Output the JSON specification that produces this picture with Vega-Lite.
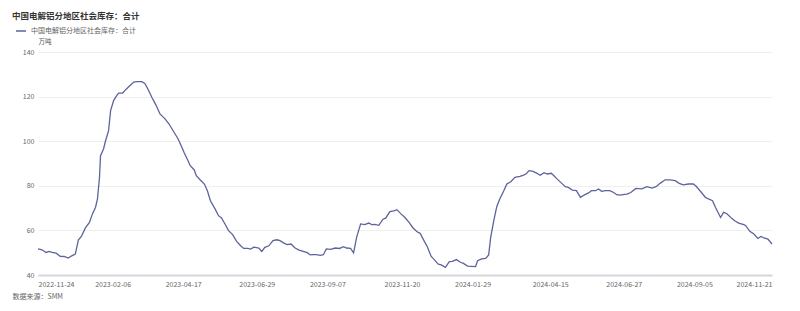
{
  "$schema": "https://vega.github.io/schema/vega-lite/v6.json",
  "autosize": "none",
  "width": 734,
  "height": 223,
  "padding": {"left": 38, "top": 52, "right": 28, "bottom": 36},
  "background": "#ffffff",
  "config": {
    "font": "Noto Sans CJK SC",
    "view": {"stroke": null}
  },
  "title": {
    "text": "中国电解铝分地区社会库存：合计",
    "anchor": "start",
    "frame": "group",
    "orient": "top",
    "fontSize": 8.5,
    "fontWeight": "bold",
    "color": "#333333",
    "dx": -26,
    "offset": 5
  },
  "data": {
    "values": [
      {"date": "2022-11-24", "value": 51.7},
      {"date": "2022-11-28", "value": 51.3},
      {"date": "2022-12-02", "value": 50.1},
      {"date": "2022-12-05", "value": 50.6},
      {"date": "2022-12-08", "value": 50.1},
      {"date": "2022-12-12", "value": 49.8},
      {"date": "2022-12-16", "value": 48.4},
      {"date": "2022-12-20", "value": 48.3},
      {"date": "2022-12-24", "value": 47.6},
      {"date": "2022-12-27", "value": 48.5},
      {"date": "2022-12-31", "value": 49.4},
      {"date": "2023-01-03", "value": 55.7},
      {"date": "2023-01-06", "value": 57.3},
      {"date": "2023-01-10", "value": 61.1},
      {"date": "2023-01-14", "value": 63.6},
      {"date": "2023-01-17", "value": 67.4},
      {"date": "2023-01-20", "value": 70.3},
      {"date": "2023-01-22", "value": 74.1},
      {"date": "2023-01-24", "value": 83.8},
      {"date": "2023-01-25", "value": 93.5},
      {"date": "2023-01-28", "value": 96.5},
      {"date": "2023-01-30", "value": 100.2},
      {"date": "2023-02-02", "value": 104.7},
      {"date": "2023-02-04", "value": 113.7},
      {"date": "2023-02-07", "value": 118.2},
      {"date": "2023-02-10", "value": 120.4},
      {"date": "2023-02-12", "value": 121.6},
      {"date": "2023-02-16", "value": 121.6},
      {"date": "2023-02-19", "value": 123.1},
      {"date": "2023-02-23", "value": 124.9},
      {"date": "2023-02-27", "value": 126.5},
      {"date": "2023-03-02", "value": 126.7},
      {"date": "2023-03-07", "value": 126.7},
      {"date": "2023-03-10", "value": 125.9},
      {"date": "2023-03-13", "value": 123.4},
      {"date": "2023-03-17", "value": 119.6},
      {"date": "2023-03-21", "value": 116.2},
      {"date": "2023-03-25", "value": 112.2},
      {"date": "2023-03-30", "value": 110.0},
      {"date": "2023-04-03", "value": 107.7},
      {"date": "2023-04-07", "value": 104.7},
      {"date": "2023-04-12", "value": 101.0},
      {"date": "2023-04-16", "value": 97.0},
      {"date": "2023-04-18", "value": 94.8},
      {"date": "2023-04-21", "value": 92.0},
      {"date": "2023-04-24", "value": 89.0},
      {"date": "2023-04-28", "value": 87.1},
      {"date": "2023-04-30", "value": 84.5},
      {"date": "2023-05-04", "value": 82.6},
      {"date": "2023-05-08", "value": 80.8},
      {"date": "2023-05-11", "value": 77.8},
      {"date": "2023-05-14", "value": 73.3},
      {"date": "2023-05-19", "value": 69.3},
      {"date": "2023-05-22", "value": 66.6},
      {"date": "2023-05-25", "value": 65.6},
      {"date": "2023-05-29", "value": 62.4},
      {"date": "2023-06-01", "value": 59.9},
      {"date": "2023-06-05", "value": 58.1},
      {"date": "2023-06-09", "value": 55.1},
      {"date": "2023-06-13", "value": 53.1},
      {"date": "2023-06-16", "value": 51.9},
      {"date": "2023-06-20", "value": 51.9},
      {"date": "2023-06-23", "value": 51.6},
      {"date": "2023-06-26", "value": 52.5},
      {"date": "2023-07-01", "value": 52.1},
      {"date": "2023-07-04", "value": 50.6},
      {"date": "2023-07-07", "value": 52.4},
      {"date": "2023-07-11", "value": 53.1},
      {"date": "2023-07-15", "value": 55.4},
      {"date": "2023-07-19", "value": 55.8},
      {"date": "2023-07-22", "value": 55.4},
      {"date": "2023-07-26", "value": 54.3},
      {"date": "2023-07-29", "value": 53.6},
      {"date": "2023-08-02", "value": 53.9},
      {"date": "2023-08-06", "value": 52.1},
      {"date": "2023-08-10", "value": 51.2},
      {"date": "2023-08-14", "value": 50.6},
      {"date": "2023-08-18", "value": 50.0},
      {"date": "2023-08-21", "value": 49.0},
      {"date": "2023-08-24", "value": 49.1},
      {"date": "2023-08-27", "value": 49.1},
      {"date": "2023-08-31", "value": 48.8},
      {"date": "2023-09-03", "value": 49.1},
      {"date": "2023-09-06", "value": 51.7},
      {"date": "2023-09-10", "value": 51.5},
      {"date": "2023-09-15", "value": 52.1},
      {"date": "2023-09-19", "value": 51.9},
      {"date": "2023-09-23", "value": 52.7},
      {"date": "2023-09-26", "value": 52.1},
      {"date": "2023-09-30", "value": 51.9},
      {"date": "2023-10-03", "value": 49.9},
      {"date": "2023-10-06", "value": 56.9},
      {"date": "2023-10-10", "value": 62.9},
      {"date": "2023-10-14", "value": 62.6},
      {"date": "2023-10-18", "value": 63.3},
      {"date": "2023-10-21", "value": 62.6},
      {"date": "2023-10-24", "value": 62.7},
      {"date": "2023-10-28", "value": 62.3},
      {"date": "2023-11-01", "value": 64.9},
      {"date": "2023-11-04", "value": 65.6},
      {"date": "2023-11-08", "value": 68.4},
      {"date": "2023-11-12", "value": 68.8},
      {"date": "2023-11-15", "value": 69.3},
      {"date": "2023-11-19", "value": 67.4},
      {"date": "2023-11-23", "value": 65.8},
      {"date": "2023-11-27", "value": 63.6},
      {"date": "2023-12-01", "value": 61.1},
      {"date": "2023-12-05", "value": 59.4},
      {"date": "2023-12-08", "value": 58.7},
      {"date": "2023-12-11", "value": 56.1},
      {"date": "2023-12-15", "value": 52.8},
      {"date": "2023-12-19", "value": 48.3},
      {"date": "2023-12-22", "value": 46.9},
      {"date": "2023-12-26", "value": 44.9},
      {"date": "2023-12-29", "value": 44.5},
      {"date": "2024-01-02", "value": 43.4},
      {"date": "2024-01-06", "value": 46.0},
      {"date": "2024-01-09", "value": 46.1},
      {"date": "2024-01-13", "value": 46.9},
      {"date": "2024-01-17", "value": 45.7},
      {"date": "2024-01-20", "value": 45.2},
      {"date": "2024-01-24", "value": 44.0},
      {"date": "2024-01-28", "value": 43.9},
      {"date": "2024-02-01", "value": 43.8},
      {"date": "2024-02-03", "value": 46.4},
      {"date": "2024-02-07", "value": 47.2},
      {"date": "2024-02-11", "value": 47.4},
      {"date": "2024-02-14", "value": 49.0},
      {"date": "2024-02-16", "value": 56.9},
      {"date": "2024-02-19", "value": 64.3},
      {"date": "2024-02-22", "value": 70.6},
      {"date": "2024-02-25", "value": 74.1},
      {"date": "2024-02-29", "value": 77.8},
      {"date": "2024-03-03", "value": 80.8},
      {"date": "2024-03-07", "value": 81.8},
      {"date": "2024-03-11", "value": 83.8},
      {"date": "2024-03-16", "value": 84.2},
      {"date": "2024-03-19", "value": 84.7},
      {"date": "2024-03-22", "value": 85.3},
      {"date": "2024-03-25", "value": 86.8},
      {"date": "2024-03-29", "value": 86.5},
      {"date": "2024-04-02", "value": 85.6},
      {"date": "2024-04-05", "value": 84.7},
      {"date": "2024-04-09", "value": 85.9},
      {"date": "2024-04-12", "value": 85.3},
      {"date": "2024-04-16", "value": 85.6},
      {"date": "2024-04-19", "value": 84.4},
      {"date": "2024-04-22", "value": 83.0},
      {"date": "2024-04-26", "value": 81.3},
      {"date": "2024-04-30", "value": 79.6},
      {"date": "2024-05-03", "value": 79.3},
      {"date": "2024-05-07", "value": 78.1},
      {"date": "2024-05-11", "value": 77.8},
      {"date": "2024-05-15", "value": 74.8},
      {"date": "2024-05-19", "value": 75.9},
      {"date": "2024-05-23", "value": 76.8},
      {"date": "2024-05-26", "value": 77.8},
      {"date": "2024-05-30", "value": 77.8},
      {"date": "2024-06-02", "value": 78.6},
      {"date": "2024-06-05", "value": 77.5},
      {"date": "2024-06-09", "value": 77.8},
      {"date": "2024-06-13", "value": 77.8},
      {"date": "2024-06-17", "value": 77.0},
      {"date": "2024-06-20", "value": 76.0},
      {"date": "2024-06-23", "value": 75.8},
      {"date": "2024-06-26", "value": 76.0},
      {"date": "2024-06-30", "value": 76.3},
      {"date": "2024-07-04", "value": 77.0},
      {"date": "2024-07-09", "value": 78.8},
      {"date": "2024-07-15", "value": 78.6},
      {"date": "2024-07-20", "value": 79.6},
      {"date": "2024-07-25", "value": 79.0},
      {"date": "2024-07-29", "value": 79.6},
      {"date": "2024-08-02", "value": 81.1},
      {"date": "2024-08-07", "value": 82.7},
      {"date": "2024-08-12", "value": 82.7},
      {"date": "2024-08-17", "value": 82.3},
      {"date": "2024-08-21", "value": 81.1},
      {"date": "2024-08-25", "value": 80.4},
      {"date": "2024-08-30", "value": 80.8},
      {"date": "2024-09-04", "value": 80.8},
      {"date": "2024-09-07", "value": 79.7},
      {"date": "2024-09-12", "value": 77.0},
      {"date": "2024-09-16", "value": 74.8},
      {"date": "2024-09-19", "value": 74.1},
      {"date": "2024-09-23", "value": 73.3},
      {"date": "2024-09-26", "value": 70.3},
      {"date": "2024-10-01", "value": 65.8},
      {"date": "2024-10-04", "value": 68.1},
      {"date": "2024-10-07", "value": 67.6},
      {"date": "2024-10-12", "value": 65.4},
      {"date": "2024-10-15", "value": 64.3},
      {"date": "2024-10-19", "value": 63.3},
      {"date": "2024-10-24", "value": 62.6},
      {"date": "2024-10-26", "value": 62.1},
      {"date": "2024-10-30", "value": 59.6},
      {"date": "2024-11-03", "value": 58.4},
      {"date": "2024-11-07", "value": 56.4},
      {"date": "2024-11-10", "value": 57.3},
      {"date": "2024-11-13", "value": 56.6},
      {"date": "2024-11-17", "value": 56.1},
      {"date": "2024-11-21", "value": 53.9}
    ]
  },
  "mark": {"type": "line", "strokeWidth": 1.3, "interpolate": "linear"},
  "encoding": {
    "x": {
      "field": "date",
      "type": "temporal",
      "scale": {
        "type": "utc",
        "domain": [
          {"year": 2022, "month": 11, "date": 24, "utc": true},
          {"year": 2024, "month": 11, "date": 21, "utc": true}
        ]
      },
      "axis": {
        "values": [
          {"year": 2022, "month": 11, "date": 24, "utc": true},
          {"year": 2023, "month": 2, "date": 6, "utc": true},
          {"year": 2023, "month": 4, "date": 17, "utc": true},
          {"year": 2023, "month": 6, "date": 29, "utc": true},
          {"year": 2023, "month": 9, "date": 7, "utc": true},
          {"year": 2023, "month": 11, "date": 20, "utc": true},
          {"year": 2024, "month": 1, "date": 29, "utc": true},
          {"year": 2024, "month": 4, "date": 15, "utc": true},
          {"year": 2024, "month": 6, "date": 27, "utc": true},
          {"year": 2024, "month": 9, "date": 5, "utc": true},
          {"year": 2024, "month": 11, "date": 21, "utc": true}
        ],
        "labelExpr": "utcFormat(datum.value, '%Y-%m-%d')",
        "labelFlush": true,
        "labelOverlap": false,
        "labelFontSize": 7,
        "labelColor": "#666666",
        "labelPadding": 5,
        "ticks": false,
        "grid": false,
        "domainColor": "#d5d5dc",
        "domainWidth": 1.8,
        "title": "数据来源：SMM",
        "titleFontSize": 7,
        "titleFontWeight": "normal",
        "titleColor": "#666666",
        "titleAlign": "left",
        "titleBaseline": "middle",
        "titleAnchor": "start",
        "titleX": -26,
        "titleY": 21
      }
    },
    "y": {
      "field": "value",
      "type": "quantitative",
      "scale": {"domain": [40, 140], "nice": false, "zero": false},
      "axis": {
        "values": [40, 60, 80, 100, 120, 140],
        "labelFontSize": 7,
        "labelColor": "#666666",
        "labelPadding": 4,
        "ticks": false,
        "domain": false,
        "gridColor": "#efefef",
        "gridWidth": 1,
        "title": "万吨",
        "titleAngle": 0,
        "titleFontSize": 6.5,
        "titleFontWeight": "normal",
        "titleColor": "#555555",
        "titleAlign": "left",
        "titleBaseline": "middle",
        "titleX": 0,
        "titleY": -11
      }
    },
    "color": {
      "datum": "中国电解铝分地区社会库存：合计",
      "type": "nominal",
      "scale": {"range": ["#5d639c"]},
      "legend": {
        "title": null,
        "orient": "none",
        "legendX": -23,
        "legendY": -27,
        "symbolType": "stroke",
        "symbolSize": 100,
        "symbolStrokeWidth": 1.5,
        "labelFontSize": 7,
        "labelColor": "#666666",
        "labelOffset": 4
      }
    }
  }
}
